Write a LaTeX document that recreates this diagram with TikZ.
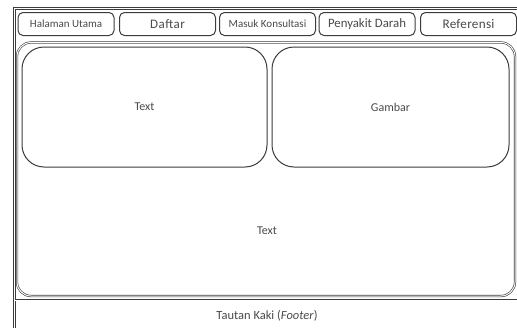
\documentclass[tikz,border=0pt]{standalone}
\usepackage{fontspec}
\setmainfont{Carlito}
\definecolor{garis}{HTML}{3C3C3C}
\definecolor{tulisan}{HTML}{4A4A4A}
\tikzset{
  bingkai/.style={draw=garis,line width=0.6pt,double=white,double distance=1pt},
  tombol/.style={draw=garis,line width=1pt,rounded corners=5pt,minimum width=96pt,minimum height=23pt,inner sep=0pt,text=tulisan},
  kotak/.style={draw=garis,line width=1pt,rounded corners=22pt,inner sep=0pt,text=tulisan,font=\fontsize{12}{14}\selectfont}
}
\begin{document}
\begin{tikzpicture}[x=1pt,y=-1pt]
\clip (0,0) rectangle (517,327);
\fill[white] (0,0) rectangle (517,327);
% bingkai halaman
\draw[bingkai] (14.5,8.5) rectangle (520,335);
% menu navigasi
\foreach \nama/\x/\teks/\uk/\spasi in {halaman/66/Halaman Utama/11/0,daftar/167.5/Daftar/13/4,masuk/267.5/Masuk Konsultasi/11/0,penyakit/367/Penyakit Darah/12.8/0,referensi/468.5/Referensi/13.2/2} {
\node[tombol,font=\fontsize{\uk}{\uk}\selectfont\addfontfeatures{LetterSpace=\spasi}] (\nama) at (\x,24) {\teks};
}
% isi halaman
\draw[bingkai,rounded corners=14pt] (17,42.5) rectangle (515,296);
\node[kotak,minimum width=245pt,minimum height=120pt] (teks1) at (144.5,107) {Text};
\node[kotak,minimum width=237pt,minimum height=120pt] (gambar) at (390.5,107) {Gambar};
\node[text=tulisan,font=\fontsize{12}{14}\selectfont] (teks2) at (267,231) {Text};
% tautan kaki
\coordinate (kiri) at (14.5,300);
\coordinate (kanan) at (520,300);
\draw[bingkai] (kiri) -- (kanan);
\node[text=tulisan,font=\fontsize{12.5}{14}\selectfont] (footer) at (267,316) {Tautan Kaki (\textit{Footer})};
\end{tikzpicture}
\end{document}
